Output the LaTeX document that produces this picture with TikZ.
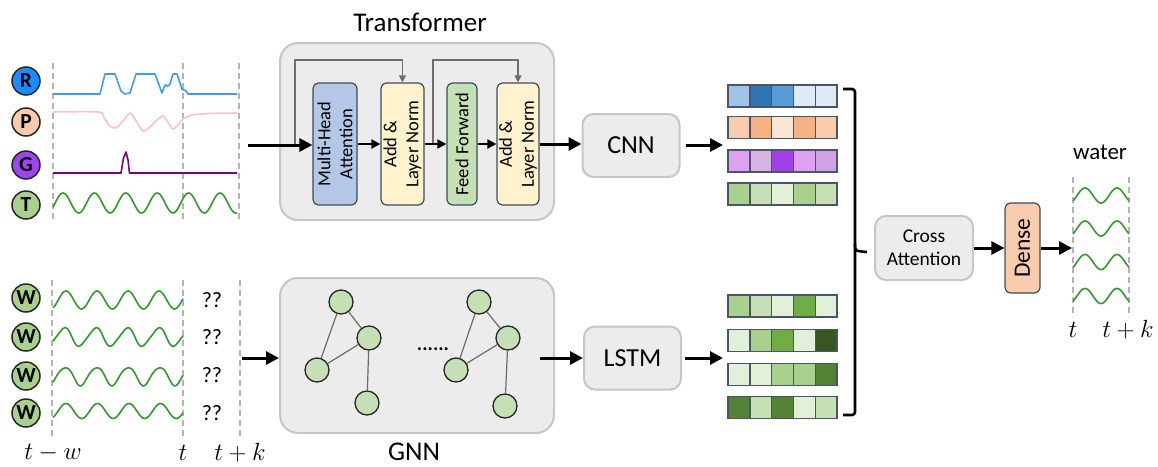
\documentclass[tikz,border=0pt]{standalone}
\usepackage{fontspec}
\setmainfont{Carlito}
\usetikzlibrary{arrows.meta}

% panel and block colours
\definecolor{boxfill}{HTML}{ECECEC}
\definecolor{boxedge}{HTML}{C6C6C6}
\definecolor{blockedge}{HTML}{3E4C5E}
\definecolor{mhafill}{HTML}{B4C7E7}
\definecolor{addfill}{HTML}{FFF2CC}
\definecolor{fffill}{HTML}{C5E0B4}
\definecolor{densefill}{HTML}{F8CBAD}
\definecolor{resgray}{HTML}{6E6E6E}
\definecolor{dashgray}{HTML}{B4B4B4}
\definecolor{celledge}{HTML}{4A5668}
% signal colours
\definecolor{rline}{HTML}{3D9BFF}
\definecolor{pline}{HTML}{FFBFCB}
\definecolor{gline}{HTML}{800080}
\definecolor{wline}{HTML}{33992E}
\definecolor{rbadge}{HTML}{1A8CFF}
\definecolor{pbadge}{HTML}{F8CBAD}
\definecolor{gbadge}{HTML}{A043F0}
\definecolor{tbadge}{HTML}{A9D18E}
% embedding cell colours
\definecolor{bA}{HTML}{9DC3E6}
\definecolor{bB}{HTML}{2E75B6}
\definecolor{bC}{HTML}{5B9BD5}
\definecolor{bD}{HTML}{DEEBF7}
\definecolor{oA}{HTML}{F8CBAD}
\definecolor{oB}{HTML}{F4B183}
\definecolor{oC}{HTML}{FBE5D6}
\definecolor{vA}{HTML}{DDA0F3}
\definecolor{vB}{HTML}{D8B4E2}
\definecolor{vC}{HTML}{A040E6}
\definecolor{vD}{HTML}{D0A2E6}
\definecolor{gA}{HTML}{A9D18E}
\definecolor{gB}{HTML}{C5E0B4}
\definecolor{gC}{HTML}{E2F0D9}
\definecolor{gD}{HTML}{70AD47}
\definecolor{gE}{HTML}{548235}
\definecolor{gF}{HTML}{375623}

\begin{document}
\begin{tikzpicture}[x=1pt,y=-1pt,
  panel/.style={draw=boxedge, fill=boxfill, line width=2pt, rounded corners=18pt},
  smallbox/.style={draw=boxedge, fill=boxfill, line width=2pt, rounded corners=11pt,
    minimum width=97pt, minimum height=63pt, font=\fontsize{26}{30}\selectfont},
  tblock/.style={draw=blockedge, line width=1.2pt, rounded corners=6pt, minimum height=122pt},
  vtext/.style={rotate=90, align=center, font=\fontsize{18.5}{22}\selectfont, inner sep=0pt},
  bigarrow/.style={line width=3pt, -{Triangle[length=13pt,width=13pt]}},
  midarrow/.style={line width=2pt, -{Triangle[length=9pt,width=9pt]}},
  resid/.style={draw=resgray, line width=1.3pt, -{Triangle[length=7pt,width=7pt]}},
  timeline/.style={draw=dashgray, line width=1.3pt, dash pattern=on 6pt off 4pt},
  badge/.style={circle, draw=black!85, line width=1.5pt, minimum size=28pt, inner sep=0pt,
    font=\bfseries\fontsize{21.5}{21.5}\selectfont},
  cell/.style={draw=celledge, line width=1.5pt, minimum size=21.8pt, inner sep=0pt, outer sep=0pt},
  gnode/.style={circle, draw=black!85, fill=gB, line width=1.3pt, minimum size=24pt, inner sep=0pt},
  gedge/.style={draw=gray!85!black, line width=1.2pt},
  wave/.style={draw=wline, line width=1.6pt},
  lbl/.style={font=\fontsize{27}{30}\selectfont, inner sep=0pt},
  mlbl/.style={font=\fontsize{23.5}{26}\selectfont, inner sep=0pt},
  qq/.style={font=\fontsize{22}{24}\selectfont, inner sep=0pt},
]
\useasboundingbox (0,0) rectangle (1158,466);

% ---------------- exogenous inputs ----------------
\node[badge, fill=rbadge] (bR) at (26,81) {R};
\node[badge, fill=pbadge] (bP) at (26,122) {P};
\node[badge, fill=gbadge] (bG) at (26,165) {G};
\node[badge, fill=tbadge] (bT) at (26,205) {T};

\draw[timeline] (53,63) -- (53,220);
\draw[timeline] (183,63) -- (183,220);
\draw[timeline] (239,63) -- (239,220);

\draw[draw=rline, line width=1.6pt, line join=round]
  (53,94) -- (100,94) -- (105,74) -- (115,74) -- (121,91) -- (125,94) -- (130,93)
  -- (136,74) -- (155,74) -- (162,93) -- (165,85) -- (168,86) -- (170,84) -- (173,74)
  -- (177,74) -- (182,89) -- (186,91) -- (188,94) -- (237,94);
\draw[draw=pline, line width=1.6pt] plot[smooth, tension=0.45] coordinates {
  (53,112) (99,112) (104,118) (110,126) (116,128) (123,121) (130,113)
  (136,121) (143,131) (151,126) (158,119) (163,116) (165,118) (169,124) (173,129)
  (177,126) (183,119) (192,115) (210,113.5) (237,113)};
\draw[draw=gline, line width=1.6pt, line join=round]
  (53,173) -- (121,173) -- (123.5,158) -- (126,152) -- (128,160) -- (129.5,173) -- (237,173);
% degrees per pixel: 360/31.4 = 11.465
\draw[wave] plot[domain=53:237, samples=160, smooth] (\x, {203 - 10*cos((\x-63)*11.465)});

\coordinate (sigout) at (248,145);

% ---------------- transformer ----------------
\node[panel, minimum width=274pt, minimum height=177pt] (trans) at (417,131.5) {};
\node[lbl] (transtitle) at (420,22) {Transformer};

\node[tblock, fill=mhafill, minimum width=44pt] (mha) at (335,144) {};
\node[vtext] (mhatext) at (mha) {Multi-Head\\Attention};
\node[tblock, fill=addfill, minimum width=43pt] (addA) at (402.5,144) {};
\node[vtext] (addAtext) at (addA) {Add \&\\Layer Norm};
\node[tblock, fill=fffill, minimum width=30pt] (ff) at (462,144) {};
\node[vtext] (fftext) at (ff) {Feed Forward};
\node[tblock, fill=addfill, minimum width=42pt] (addB) at (518,144) {};
\node[vtext] (addBtext) at (addB) {Add \&\\Layer Norm};

\coordinate (resA) at (295,145);
\coordinate (resB) at (433,145);
\draw[resid] (resA) -- (295,60) -| (addA.north);
\draw[resid] (resB) -- (433,60) -| (addB.north);

\draw[bigarrow] (sigout) -- (sigout -| mha.west);
\draw[midarrow] (mha.east) -- (addA.west);
\draw[midarrow] (addA.east) -- (ff.west);
\draw[midarrow] (ff.east) -- (addB.west);

\node[smallbox] (cnn) at (631,145.5) {CNN};
\draw[bigarrow] (addB.east) -- (addB.east -| cnn.west);

% ---------------- water levels ----------------
\foreach \yy/\name in {298/W1, 337/W2, 376/W3, 413/W4}
  \node[badge, fill=tbadge] (b\name) at (26,\yy) {W};

\draw[timeline] (52,280) -- (52,437);
\draw[timeline] (183,280) -- (183,437);
\draw[timeline] (240,280) -- (240,437);

% degrees per pixel: 360/31 = 11.613, 360/31.5 = 11.429
\draw[wave] plot[domain=53:183, samples=120, smooth] (\x, {300 - 9*cos((\x-66)*11.613)});
\draw[wave] plot[domain=53:183, samples=120, smooth] (\x, {337 - 9*cos((\x-64)*11.429) - 1.2*sin((\x-64)*22.857)});
\draw[wave] plot[domain=53:183, samples=120, smooth] (\x, {376 - 9*cos((\x-65)*11.429) + 1.0*sin((\x-60)*22.857)});
\draw[wave] plot[domain=53:183, samples=120, smooth] (\x, {411 - 7.5*cos((\x-66)*11.429)});

\foreach \yy/\name in {300/q1, 337/q2, 375/q3, 413/q4}
  \node[qq] (\name) at (212,\yy) {??};

\node[mlbl] (twl) at (53,453) {$t-w$};
\node[mlbl] (tl) at (183,453) {$t$};
\node[mlbl] (tkl) at (240,453) {$t+k$};

\coordinate (win) at (242,358);

% ---------------- GNN ----------------
\node[panel, minimum width=274pt, minimum height=155pt] (gnn) at (417,355.5) {};
\node[lbl] (gnntitle) at (414,452) {GNN};

\node[gnode] (a1) at (341,302) {};
\node[gnode] (a2) at (369,338) {};
\node[gnode] (a3) at (317,370) {};
\node[gnode] (a4) at (367,403) {};
\node[gnode] (c1) at (479,302) {};
\node[gnode] (c2) at (508,338) {};
\node[gnode] (c3) at (456,370) {};
\node[gnode] (c4) at (505,406) {};
\foreach \p in {a,c} {
  \draw[gedge] (\p1) -- (\p2);
  \draw[gedge] (\p1) -- (\p3);
  \draw[gedge] (\p3) -- (\p2);
  \draw[gedge] (\p2) -- (\p4);
}
\node[font=\bfseries\fontsize{20}{20}\selectfont, inner sep=0pt] (gdots) at (433,349) {......};

\draw[bigarrow] (win) -- (win -| gnn.west);

\node[smallbox] (lstm) at (632.5,358) {LSTM};
\coordinate (gout) at (540,358);
\draw[bigarrow] (gout) -- (lstm.west);

% ---------------- embeddings ----------------
\foreach \yy/\cols [count=\r] in {
    96/{bA,bB,bC,bD,bD},
    127.5/{oA,oB,oC,oB,oA},
    161/{vA,vB,vC,vA,vD},
    194/{gA,gB,gC,gA,gB},
    306/{gA,gB,gC,gD,gC},
    340.5/{gC,gA,gD,gC,gF},
    374.5/{gC,gC,gA,gA,gE},
    407.5/{gE,gB,gE,gC,gB}} {
  \foreach \c [count=\i from 0] in \cols
    \node[cell, fill=\c] (cell-\r-\i) at ({739+21.8*\i}, \yy) {};
}

\coordinate (embtop) at (723,145);
\coordinate (embbot) at (723,358);
\draw[bigarrow] (cnn.east |- embtop) ++(5,0) -- (embtop);
\draw[bigarrow] (lstm.east |- embbot) ++(3,0) -- (embbot);

% bracket gathering both streams
\coordinate (brtip) at (867,252);
\draw[line width=2.6pt, rounded corners=3pt] (843,89) -- (855,89) -- (855,415) -- (843,415);
\draw[line width=2.6pt] (855,244) .. controls (855,251) .. (brtip);

% ---------------- fusion and output ----------------
\node[smallbox, minimum width=98pt, minimum height=64pt, align=center,
      font=\fontsize{19.5}{23}\selectfont] (xatt) at (924,248) {Cross\\Attention};
\node[draw=blockedge, fill=densefill, line width=1.2pt, rounded corners=6pt,
      minimum width=35pt, minimum height=90pt] (dense) at (1022.5,248) {};
\node[rotate=90, font=\fontsize{23.5}{26}\selectfont, inner sep=0pt] (densetext) at (dense) {Dense};
\draw[bigarrow] (xatt.east) -- (dense.west);
\coordinate (wavein) at (1072,248);
\draw[bigarrow] (dense.east) -- (wavein);

\node[font=\fontsize{23}{26}\selectfont, inner sep=0pt] (water) at (1100,152) {water};
\draw[timeline] (1073,177) -- (1073,317);
\draw[timeline] (1129,177) -- (1129,317);
\foreach \c in {195.5, 228.5, 262, 296}
  \draw[wave] plot[domain=1073:1129, samples=60, smooth] (\x, {\c - 7.5*cos((\x-1085)*11.25)});
\node[mlbl] (tout) at (1073,330) {$t$};
\node[mlbl] (tkout) at (1128,330) {$t+k$};

\end{tikzpicture}
\end{document}
